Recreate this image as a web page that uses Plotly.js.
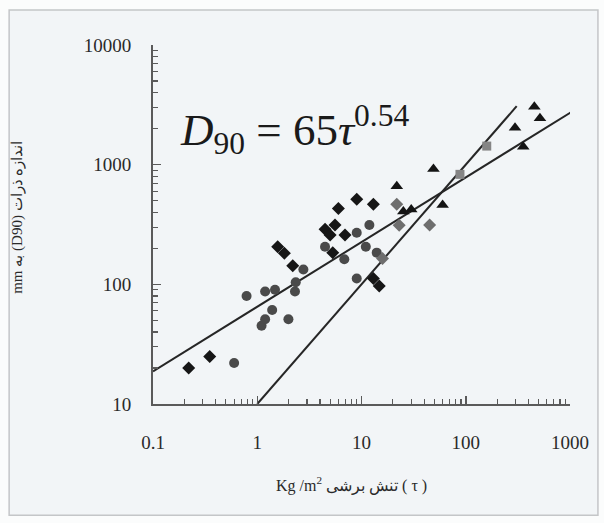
<!DOCTYPE html>
<html>
<head>
<meta charset="utf-8">
<script src="https://cdn.plot.ly/plotly-3.0.1.min.js"></script>
<style>
html,body{margin:0;padding:0;background:#fbfcfc;}
#chart{width:604px;height:523px;}
</style>
</head>
<body>
<div id="chart"></div>
<script>
// ---- data (shear stress tau [Kg/m2], D90 [mm]) ----
var diamondTau = [0.22, 0.35, 1.57, 1.82, 2.19, 4.47, 5.0, 5.57, 6.0, 6.95, 5.3, 9.0, 13, 13, 14.8];
var diamondD   = [20, 25, 206, 182, 143, 288, 258, 313, 431, 258, 184, 513, 466, 112, 97];

var circleTau = [0.6, 0.79, 1.19, 1.48, 1.10, 1.19, 1.39, 1.99, 2.34, 2.30, 2.77, 4.47, 6.84, 9.0, 11.9, 11.0, 14.0, 9.0];
var circleD   = [22, 80, 87, 90, 45, 51, 61, 51, 104, 87, 133, 206, 162, 270, 313, 206, 184, 112];

var grayDiamondTau = [21.8, 23, 45, 15.9];
var grayDiamondD   = [466, 311, 313, 164];

var triangleTau = [21.8, 25.2, 30, 49, 60, 297, 356, 455, 515];
var triangleD   = [659, 407, 422, 919, 460, 2030, 1410, 3050, 2440];

var squareTau = [88, 159];
var squareD   = [830, 1430];

// fitted power laws D = a * tau^b
var fit1 = {a: 65, b: 0.54, tau: [0.1, 1050]};
var fit2 = {a: 10, b: 1.0, tau: [1, 308]};

var xTickVals = [0.1, 1, 10, 100, 1000];
var xTickText = ['0.1', '1', '10', '100', '1000'];
var yTickVals = [10, 100, 1000, 10000];
var yTickText = ['10', '100', '1000', '10000'];

function powerLine(f){
  return f.tau.map(function(t){ return f.a * Math.pow(t, f.b); });
}
function minorVals(lo, hi){
  var v = [];
  for (var e = lo; e < hi; e++) for (var k = 2; k <= 9; k++) v.push(k * Math.pow(10, e));
  return v;
}

var axisColor = '#5a5a5a';
var traces = [
  {x: fit1.tau, y: powerLine(fit1), mode: 'lines', line: {color: '#262626', width: 2}, hoverinfo: 'skip'},
  {x: fit2.tau, y: powerLine(fit2), mode: 'lines', line: {color: '#262626', width: 2}, hoverinfo: 'skip'},
  {x: circleTau, y: circleD, mode: 'markers', marker: {symbol: 'circle', size: 10, color: '#4a4a4a'}},
  {x: diamondTau, y: diamondD, mode: 'markers', marker: {symbol: 'diamond', size: 10, color: '#161616'}},
  {x: grayDiamondTau, y: grayDiamondD, mode: 'markers', marker: {symbol: 'diamond', size: 10, color: '#6e6e6e'}},
  {x: triangleTau, y: triangleD, mode: 'markers', marker: {symbol: 'triangle-up', size: 11, color: '#141414'}},
  {x: squareTau, y: squareD, mode: 'markers', marker: {symbol: 'square', size: 9, color: '#858585'}}
];

var serif = '"Liberation Serif", "Times New Roman", serif';
var tickFont = {family: serif, size: 19, color: '#2a2a2a'};

var layout = {
  width: 604, height: 523,
  margin: {l: 153, r: 34, t: 45, b: 119, pad: 0},
  paper_bgcolor: '#fbfcfc',
  plot_bgcolor: 'rgba(0,0,0,0)',
  showlegend: false,
  xaxis: {
    type: 'log', range: [-1, 3],
    tickmode: 'array', tickvals: xTickVals, ticktext: xTickText,
    ticks: 'inside', ticklen: 8, tickwidth: 1.5, tickcolor: axisColor,
    showline: true, linecolor: axisColor, linewidth: 2,
    showgrid: false, zeroline: false,
    tickfont: tickFont, ticklabelstandoff: 20,
    minor: {tickmode: 'array', tickvals: minorVals(-1, 3), ticks: 'inside', ticklen: 5, tickwidth: 1.2, tickcolor: axisColor, showgrid: false}
  },
  yaxis: {
    type: 'log', range: [1, 4],
    tickmode: 'array', tickvals: yTickVals, ticktext: yTickText,
    ticks: 'inside', ticklen: 8, tickwidth: 1.5, tickcolor: axisColor,
    showline: true, linecolor: axisColor, linewidth: 2,
    showgrid: false, zeroline: false,
    tickfont: tickFont, ticklabelstandoff: 16,
    minor: {tickmode: 'array', tickvals: minorVals(1, 4), ticks: 'inside', ticklen: 5, tickwidth: 1.2, tickcolor: axisColor, showgrid: false}
  },
  shapes: [
    {type: 'rect', xref: 'paper', yref: 'paper', layer: 'below',
     x0: -0.345, x1: 1.067, y0: -0.31, y1: 1.0975,
     line: {color: '#c4c6c8', width: 1.5}, fillcolor: '#f2f5f7'}
  ],
  annotations: [
    {xref: 'paper', yref: 'paper', x: 0.06, y: 0.765, xanchor: 'left', yanchor: 'middle', showarrow: false,
     text: '<i>D</i><sub>90</sub> = 65<i>τ</i><sup>0.54</sup>',
     font: {family: serif, size: 45, color: '#1a1a1a'}},
    {xref: 'paper', yref: 'paper', x: 0.475, y: -0.225, xanchor: 'center', yanchor: 'middle', showarrow: false,
     text: 'Kg /m<sup>2</sup> تنش برشی ( τ )',
     font: {family: serif, size: 16, color: '#2a2a2a'}},
    {xref: 'paper', yref: 'paper', x: -0.325, y: 0.52, xanchor: 'center', yanchor: 'middle', showarrow: false,
     textangle: -90,
     text: 'mm به (D90) اندازه ذرات',
     font: {family: serif, size: 15, color: '#2a2a2a'}}
  ]
};

Plotly.newPlot('chart', traces, layout, {staticPlot: true, displayModeBar: false});
</script>
</body>
</html>
